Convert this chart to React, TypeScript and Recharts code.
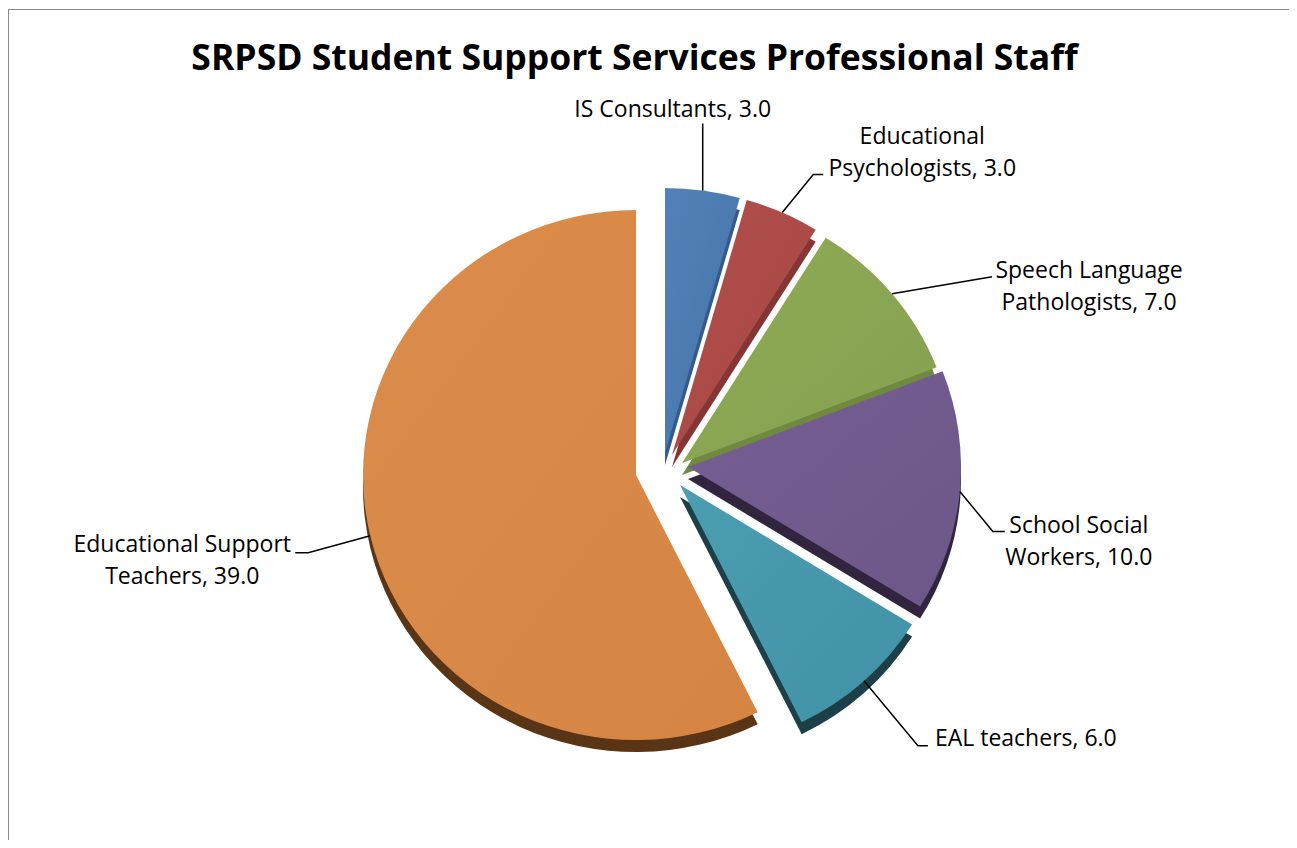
import React from 'react';
import { PieChart, Pie, Cell } from 'recharts';

const categories = [
  'IS Consultants',
  'Educational Psychologists',
  'Speech Language Pathologists',
  'School Social Workers',
  'EAL teachers',
  'Educational Support Teachers',
];
const staffCounts = [3.0, 3.0, 7.0, 10.0, 6.0, 39.0];
const faceColors = ['#4673A6', '#A64644', '#85A04F', '#6C5788', '#4292A7', '#D58443'];
const faceLightColors = ['#5282BA', '#B24F4C', '#8FAB57', '#765F93', '#4B9DB2', '#DB8D4C'];
const sideColors = ['#35598A', '#843634', '#6F893E', '#31243F', '#1D3F48', '#5A3515'];
// number of words on the first label line (0 = single line)
const labelBreaks = [0, 1, 2, 2, 0, 2];

const chartData = categories.map((name, i) => ({ name, value: staffCounts[i] }));

const W = 1289;
const H = 832;
const CX = 628;
const CY = 467;
const RX = 273;
const RY = 265;
const S = RY / RX;
const DEPTH = 12;
const FONT = '"Open Sans", Lato, sans-serif';

// explode offsets per slice (screen px)
const explode: [number, number][] = [
  [29, -22],
  [36, -20],
  [46, -12],
  [52, -8],
  [44, 10],
  [0, 0],
];

const labelLayout = [
  { elbow: [0, -67], tail: 0, text: [-30, -7], anchor: 'middle' },
  { elbow: [31, -38], tail: 10, text: [99, -31], anchor: 'middle' },
  { elbow: [100, -17], tail: 0, text: [97, 1], anchor: 'middle' },
  { elbow: [33, 40], tail: 12, text: [74, 2], anchor: 'middle' },
  { elbow: [54, 65], tail: 10, text: [7, 0], anchor: 'start' },
  { elbow: [-62, 17], tail: -13, text: [-113, -1], anchor: 'middle' },
];
const LINE_H = 32;

function labelText(i: number): string[] {
  const full = `${categories[i]}, ${staffCounts[i].toFixed(1)}`;
  const n = labelBreaks[i];
  if (!n) return [full];
  const words = full.split(' ');
  return [words.slice(0, n).join(' '), words.slice(n).join(' ')];
}

const renderLabel = (props: any) => {
  const { index, midAngle } = props;
  const theta = ((90 - midAngle) * Math.PI) / 180;
  const cx = CX + explode[index][0];
  const cy = CY + explode[index][1];
  const ax = cx + RX * Math.sin(theta);
  const ay = cy - RY * Math.cos(theta);
  const L = labelLayout[index];
  const ex = ax + L.elbow[0];
  const ey = ay + L.elbow[1];
  const tx = ex + L.tail;
  const ty = ey;
  const lines = labelText(index);
  return (
    <g key={`lbl-${index}`}>
      <polyline
        points={`${ax},${ay} ${ex},${ey} ${tx},${ty}`}
        fill="none"
        stroke="#000"
        strokeWidth={1.5}
      />
      <text
        x={tx + L.text[0]}
        y={ty + L.text[1]}
        textAnchor={L.anchor as any}
        fontFamily={FONT}
        fontSize={23}
        fill="#000"
      >
        {lines.map((ln, k) => (
          <tspan key={k} x={tx + L.text[0]} dy={k === 0 ? 0 : LINE_H}>
            {ln}
          </tspan>
        ))}
      </text>
    </g>
  );
};

export default function App() {
  return (
    <div style={{ position: 'relative', width: W, height: H }}>
      <div
        style={{
          position: 'absolute',
          left: 0,
          top: 1,
          width: W,
          height: H - 1,
          boxSizing: 'border-box',
          borderLeft: '1px solid #8a8a8a',
          borderTop: '1px solid #8a8a8a',
        }}
      />
      <div
        style={{
          position: 'absolute',
          left: 0,
          top: 0,
          width: W,
          height: H,
          transform: `scaleY(${S})`,
          transformOrigin: `0px ${CY}px`,
        }}
      >
        <PieChart width={W} height={H} margin={{ top: 0, right: 0, bottom: 0, left: 0 }}>
          <defs>
            {faceColors.map((c, i) => (
              <linearGradient key={i} id={`face${i}`} x1="0" y1="0" x2="1" y2="1">
                <stop offset="0%" stopColor={faceLightColors[i]} />
                <stop offset="100%" stopColor={c} />
              </linearGradient>
            ))}
          </defs>
          {staffCounts.map((_, i) => (
            <Pie
              key={`side-${i}`}
              data={chartData}
              dataKey="value"
              nameKey="name"
              cx={CX + explode[i][0]}
              cy={CY + (explode[i][1] + DEPTH) / S}
              outerRadius={RX}
              startAngle={90}
              endAngle={-270}
              stroke="none"
              isAnimationActive={false}
            >
              {chartData.map((_, j) => (
                <Cell key={j} fill={j === i ? sideColors[i] : 'none'} stroke="none" />
              ))}
            </Pie>
          ))}
          {staffCounts.map((_, i) => (
            <Pie
              key={`face-${i}`}
              data={chartData}
              dataKey="value"
              nameKey="name"
              cx={CX + explode[i][0]}
              cy={CY + explode[i][1] / S}
              outerRadius={RX}
              startAngle={90}
              endAngle={-270}
              stroke="none"
              isAnimationActive={false}
            >
              {chartData.map((_, j) => (
                <Cell key={j} fill={j === i ? `url(#face${i})` : 'none'} stroke="none" />
              ))}
            </Pie>
          ))}
        </PieChart>
      </div>
      <div style={{ position: 'absolute', left: 0, top: 0, width: W, height: H }}>
        <PieChart width={W} height={H} margin={{ top: 0, right: 0, bottom: 0, left: 0 }}>
          <Pie
            data={chartData}
            dataKey="value"
            nameKey="name"
            cx={CX}
            cy={CY}
            outerRadius={RX}
            startAngle={90}
            endAngle={-270}
            fill="none"
            stroke="none"
            label={renderLabel}
            labelLine={false}
            isAnimationActive={false}
          />
        </PieChart>
      </div>
      <svg
        width={W}
        height={90}
        style={{ position: 'absolute', left: 0, top: 0, pointerEvents: 'none' }}
      >
        <text
          x={626.5}
          y={62}
          textAnchor="middle"
          fontFamily={FONT}
          fontWeight={700}
          fontSize={35.5}
          fill="#000"
        >
          SRPSD Student Support Services Professional Staff
        </text>
      </svg>
    </div>
  );
}
